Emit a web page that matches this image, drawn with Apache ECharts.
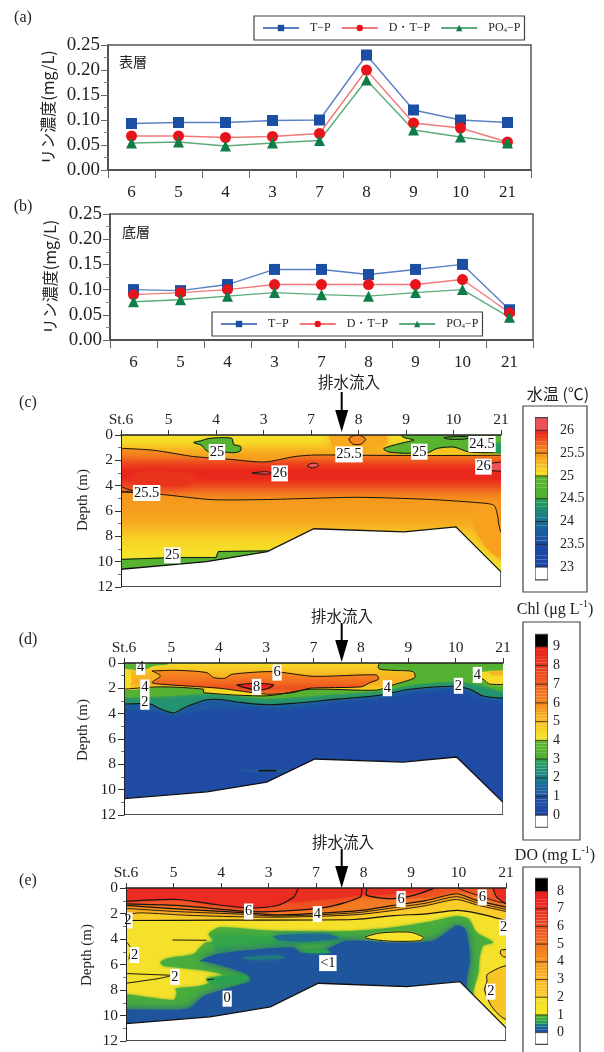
<!DOCTYPE html>
<html><head><meta charset="utf-8">
<style>html,body{margin:0;padding:0;background:#fff}#c{width:604px;height:1052px}</style>
<script src="https://cdn.jsdelivr.net/npm/echarts@6/dist/echarts.min.js"></script>
</head><body><div id="c"></div>
<script>
// ---------- line panels ----------
const stations = ['6','5','4','3','7','8','9','10','21'];
const surfaceTP  = [0.093,0.095,0.095,0.099,0.100,0.230,0.120,0.100,0.095];
const surfaceDTP = [0.068,0.068,0.065,0.067,0.073,0.200,0.094,0.084,0.056];
const surfacePO4 = [0.054,0.056,0.048,0.054,0.059,0.180,0.080,0.066,0.054];
const bottomTP  = [0.100,0.098,0.110,0.140,0.140,0.130,0.140,0.150,0.060];
const bottomDTP = [0.090,0.094,0.100,0.110,0.110,0.110,0.110,0.120,0.054];
const bottomPO4 = [0.076,0.080,0.087,0.094,0.090,0.087,0.094,0.100,0.045];
const sectionLabels = ['St.6','5','4','3','7','8','9','10','21'];

// ---------- colour scales (value, colour) ----------
const tempStops = [[23,'#1d44a4'],[23.5,'#1d4aa8'],[24,'#1a6f95'],[24.5,'#25a552'],[24.51,'#4fae33'],[25,'#5fb62f'],[25.001,'#f5e72a'],[25.25,'#f8bb22'],[25.5,'#f6951d'],[25.75,'#ef5a1f'],[26,'#e8201c'],[26.001,'#ee5258']];
const chlStops  = [[0,'#1f45a5'],[1,'#1f4fa5'],[2,'#1a7f8d'],[3,'#2ba554'],[3.01,'#4fae33'],[4,'#5fb62f'],[4.001,'#f5e72a'],[5,'#f8c022'],[6,'#f5861f'],[7,'#f0621f'],[8,'#ea3a20'],[9,'#e8201c'],[9.001,'#000000']];
const doStops   = [[0,'#1f45a5'],[0.4,'#1e6f90'],[0.6,'#2aa24f'],[1,'#5ab431'],[1.001,'#f5e92b'],[2,'#f5de2b'],[2.001,'#f8cf2a'],[3,'#f7b825'],[4,'#f6961f'],[5,'#f27424'],[6,'#ee4f24'],[7,'#ea2c22'],[8,'#e8201c'],[8.001,'#000000']];

// ---------- (c) water temperature ----------
const tempFloor = [[0,10.6],[1.8,10],[3.08,9.2],[4.06,7.4],[5.96,7.65],[7.05,7.25],[8,10.8]];
const tempUp255 = [[0,1.05],[0.68,1.2],[1.53,1.7],[2.24,1.9],[3.02,2.13],[3.66,1.7],[4.08,1.58],[5.05,1.6],[6.46,1.62],[8,1.6]];
const tempLow255 = [[0,4.5],[0.82,4.68],[1.9,5.1],[3,5.1],[4,5],[5,4.92],[6.45,5.08],[7.5,5.34],[7.85,5.55],[7.93,6.4],[7.95,7],[8,7.7]];
const tempBaseProfile = [[0,25.02],[0.6,25.08],[1.2,25.3],[1.7,25.44],[5,25.48],[6,25.44],[7,25.34],[8,25.15],[9,25.05],[10,25.01]];
const tempBandProfile = [[1,25.52],[1.6,25.6],[2.2,25.82],[2.8,25.97],[3.4,25.97],[4,25.82],[4.6,25.62],[5.2,25.5],[6,25.5]];
const tempHotLeft = [[0.3,3],[1,2.9],[1.6,3.2],[1.4,3.9],[0.7,4.05],[0.3,3.7]];
const tempWarmRight = [[7.4,5.6],[9,5.6],[9,10.5],[7.9,9.6],[7.5,7.8]];
const tempWarmTop = [[4.4,-0.5],[5.5,-0.5],[5.6,0.7],[5.1,1.3],[4.5,1.2]];
const tempYellowTop = [[6,0.9],[7,0.7],[8.5,0.9],[8.5,1.5],[6,1.5]];
const tempGreenA = [[1.53,0.6],[1.67,0.47],[1.88,0.26],[2.33,0.26],[2.37,0.74],[2.52,0.92],[2.51,1.26],[2.37,1.4],[2.16,1.34],[1.88,1.4],[1.77,1.13],[1.7,0.82]];
const tempGreenB = [[5.75,-1],[5.89,0],[5.96,0.2],[6.17,0.4],[5.89,0.66],[5.53,1.08],[5.64,1.34],[6.1,1.45],[6.45,1.4],[6.66,1.05],[7.01,0.95],[7.33,1.34],[8,1.4],[9,1.4],[9,-1]];
const tempGreenC = [[-1,9.95],[1.1,9.68],[2,9.68],[2.05,9.2],[3.08,9.15],[3.5,9.2],[3.5,13],[-1,13]];
const temp245Ring = [[6.8,0.2],[7.2,0.12],[7.4,0.2],[7.2,0.33],[6.9,0.33]];
const temp245Right = [[7.85,0.65],[9,0.65],[9,1.4],[7.85,1.4]];
const temp255Blob = [[4.8,0.3],[4.9,0.05],[5.05,0.05],[5.15,0.35],[5.05,0.72],[4.88,0.72]];
const temp26A = [[2.76,3],[3.05,2.9],[3.18,3],[3.05,3.1]];
const temp26B = [[3.92,2.45],[4,2.25],[4.12,2.25],[4.16,2.42],[4.03,2.6]];
const temp26C = [[7.6,2.6],[7.85,2.2],[9,1.95],[9,2.85],[7.8,2.82]];
const tempLoop = [[0,4.05],[0.12,4.25],[0.25,4.4],[0,4.5]];
const tempTextItems = [[2.02,1.34,'25'],[4.8,1.53,'25.5'],[6.28,1.32,'25'],[7.6,0.71,'24.5'],[3.34,3.03,'26'],[7.63,2.5,'26'],[0.54,4.58,'25.5'],[1.08,9.5,'25']];

// ---------- (d) chlorophyll ----------
const chlFloor = [[0,10.7],[1.75,10.17],[3.01,9.41],[4.03,7.58],[5.89,7.82],[7.02,7.42],[8,11]];
const chlLine2 = [[0,3.24],[0.55,3.24],[0.77,3.63],[1.05,3.95],[1.22,3.63],[1.4,3.32],[1.75,2.9],[2.1,2.9],[2.45,3.11],[3.01,3.29],[3.57,3.19],[4.49,2.85],[5.4,2.54],[6.03,2.07],[6.95,1.83],[7.3,2.07],[7.58,2.6],[8,2.77]];
const chlHaze  = [[0,3.6],[0.8,3.9],[1.05,4.15],[1.5,3.8],[2.5,3.5],[3.5,3.6],[4.5,3.1],[5.4,2.8],[6.03,2.35],[6.95,2.1],[7.5,2.7],[8,3.1]];
const chlGreen = [[0,2.7],[1,2.6],[2,2.4],[3,2.8],[4.5,2.45],[5.5,2.15],[6,1.75],[7,1.45],[7.5,1.7],[8,2.2]];
const chlLine4 = [[0,0.63],[0.17,0.5],[0.34,0.68],[0.63,0.24],[0.91,0.1],[0.95,-0.5],[5.4,-0.5],[5.37,0.42],[5.68,0.58],[6.1,0.68],[6.14,1.15],[5.68,1.73],[5.33,2.14],[3.93,2.07],[3.01,2.59],[1.68,2.34],[1.68,2.07],[0.77,1.88],[0,2.07]];
const chlYellowProfile = [[0,4.3],[0.5,4.8],[1,5.2],[1.6,5.3],[2.1,4.6],[2.6,4.1]];
const chlYellowLeft = [[-1,0.63],[0.1,0.55],[0.1,2.05],[-1,2.07]];
const chlLine6 = [[0.59,0.63],[1.12,0.58],[1.75,0.76],[1.89,1.15],[2.13,1.2],[2.28,0.89],[3.15,0.68],[4,1.05],[5.33,0.94],[5.37,1.28],[5.19,1.55],[5.01,1.88],[3.93,1.99],[3.57,2.33],[3.01,2.46],[2.03,2],[0.77,1.67],[0.59,1.54],[0.77,1.02]];
const chlOrangeProfile = [[0.6,5.9],[1.1,6.3],[1.6,6.9],[2,7.5],[2.5,6.3]];
const chlLine8 = [[2.38,1.73],[2.73,1.62],[3.15,1.73],[3.05,1.99],[2.8,2.14],[2.49,1.88]];
const chlBlobRight = [[7.37,0.76],[9,0.63],[9,1.67],[7.72,1.67],[7.58,1.28],[7.45,1.1]];
const chlBlobRightCore = [[7.7,0.7],[9,0.65],[9,0.95],[7.8,0.95]];
const chlDeepPatch = [[2.4,8.5],[3.2,8.42],[3.5,8.5],[3.2,8.58]];
const chlDeepLine = [[2.84,8.5],[3.22,8.5]];
const chlTextItems = [[0.35,0.31,'4'],[0.44,1.93,'4'],[0.44,3.06,'2'],[3.23,0.76,'6'],[2.8,1.88,'8'],[5.56,1.99,'4'],[7.06,1.8,'2'],[7.46,0.94,'4']];

// ---------- (e) dissolved oxygen ----------
const doFloor = [[0,10.63],[1.77,10.1],[3.04,9.32],[4.05,7.47],[5.91,7.74],[7.03,7.34],[8,10.97]];
const doLineA = [[0,1.05],[1.07,0.9],[1.77,1.24],[2.55,1.55],[3.18,1.37],[3.53,0.71],[3.62,0.05]];
const doLineB = [[0,1.24],[1.07,1.37],[2.55,1.84],[3.18,1.84],[4.23,1.5],[4.93,0.71],[4.96,0.05]];
const doLineC = [[5.07,0.05],[5.07,0.58],[5.63,0.84],[6.05,0.58],[6.47,0.05]];
const doLineD = [[0,1.37],[1.07,1.63],[2.55,1.95],[3.18,2.1],[4.23,1.95],[4.93,1.76],[5.63,1.37],[6.33,0.97],[6.96,0.45],[7.38,0.97],[8,1.5]];
const doLineE = [[0,2.1],[0.3,1.95],[1.42,2.16],[3.18,2.29],[4.82,2.1],[5.63,1.76],[6.33,1.37],[6.96,0.9],[7.38,1.32],[8,1.84]];
const doLineF = [[0,2.55],[2,2.52],[4.82,2.47],[5.63,2.16],[6.33,2.03],[6.96,1.76],[7.38,1.97],[8,2.55]];
const doLineG = [[7,0.05],[7.35,0.5],[7.8,1.05],[8,1.2]];
const doLineH = [[7.73,0.05],[7.8,0.7],[8,1.24]];
const doLineI = [[0,1.6],[1.07,1.85],[2.55,2.07],[3.18,2.2],[4.82,1.95],[5.63,1.55],[6.33,1.18],[6.96,0.68],[7.38,1.15],[8,1.68]];
const doRedLeft = [[-1,-1],[3.75,-1],[3.62,0.05],[3.53,0.71],[3.18,1.37],[2.55,1.55],[1.77,1.24],[1.07,0.9],[-1,1.05]];
const doRedMid = [[3.6,-1],[6.5,-1],[6.47,0.05],[5.7,0.45],[4.9,0.6],[4.3,0.85],[3.4,1]];
const doRedRight = [[7.75,-1],[9,-1],[9,1],[8,1],[7.8,0.6]];
const doGreen = [[0,8.34],[1,8.79],[1.07,8.21],[1.04,7.89],[1.56,7.68],[1.77,7.42],[1.7,7.16],[2.05,6.82],[1.56,6.42],[0.79,6.11],[0.72,5.84],[0.86,5.53],[1.42,5.18],[1.56,4.66],[1.7,4.26],[2.12,4.13],[1.84,4],[1.74,3.6],[1.98,3.08],[2.97,3.34],[4.09,3.42],[4.93,3.34],[5.63,3.08],[6.33,2.68],[6.96,2.21],[7.21,2.42],[7.38,3.47],[7.73,4.26],[7.52,4.53],[7.44,5.58],[7.42,6.63],[7.31,8.21],[7.3,13],[-1,13],[-1,8.34]];
const doBlue = [[-1,9.84],[1.29,9.47],[1.64,8.47],[2.42,7.55],[2.63,7.29],[2.5,6.7],[1.77,5.84],[1.56,5.71],[1.92,5.18],[2.83,4.79],[3.53,4.66],[3.67,5.05],[4.09,5.05],[4.37,4.53],[4.65,4.13],[5.63,4.26],[6.47,4.13],[6.75,3.47],[6.96,2.95],[7.14,3.21],[7.21,4.26],[7.24,5.58],[7.17,7.42],[7.1,13],[-1,13]];
const doTeal = [[1.85,3.75],[3.2,3.85],[4.2,3.65],[4.7,3.95],[4.4,4.3],[3.5,4.45],[2.5,4.5],[1.9,5]];
const doBlueTop = [[3.1,3.75],[4.2,3.6],[4.5,3.95],[3.8,4.2],[3.2,4.05]];
const doTongue = [[3.7,4.95],[4.2,4.85],[4.3,5.05],[3.9,5.1]];
const doPatch = [[2.45,5.45],[3.2,5.3],[3.35,5.5],[2.6,5.6]];
const doTongue2 = [[1.7,7.1],[2.5,6.85],[2.6,7.1],[2.3,7.45],[1.8,7.55]];
const doIsland = [[5.03,3.87],[5.35,3.53],[5.98,3.47],[6.26,3.87],[6.19,4.13],[5.63,4.18],[5.21,4.05]];
const doRightPatch = [[9,6.1],[8,6.1],[7.6,6.8],[7.6,7.3],[7.55,8],[7.7,9.3],[8,10.3],[9,10.3]];
const doRing = [[9,4.8],[7.9,4.85],[7.88,5.1],[7.95,5.4],[9,5.45]];
const doContourLeft = [[[0.98,4.08],[1.7,4.1]],[[0,6.71],[0.93,6.84]],[[0,7.47],[0.69,7.1],[0.93,6.9]],[[0,4.2],[0.1,4.7],[0.06,5.6]],[[1.7,7.2],[1.85,7.15]]];
const doTextItems = [[2.58,1.84,'6'],[4.03,2.05,'4'],[5.79,0.87,'6'],[7.5,0.74,'6'],[0.04,2.55,'2'],[7.95,3.1,'2'],[0.18,5.26,'2'],[1.03,6.97,'2'],[4.25,5.89,'<1'],[7.68,8.13,'2'],[2.13,8.68,'0']];

// ---------- helpers ----------
const SERIF = '"Liberation Serif","DejaVu Serif",serif';
const CJK = '"Noto Sans CJK JP","Noto Sans CJK SC",sans-serif';
const WHOLE = [[-1,-1],[9,-1],[9,13],[-1,13]];
function hex(c){return [1,3,5].map(i=>parseInt(c.substr(i,2),16));}
function colourOf(stops,v){
  if(v<=stops[0][0])return stops[0][1];
  for(let i=1;i<stops.length;i++){
    if(v<=stops[i][0]){
      const a=stops[i-1],b=stops[i],t=(v-a[0])/(b[0]-a[0]);
      const A=hex(a[1]),B=hex(b[1]);
      return 'rgb('+A.map((x,k)=>Math.round(x+(B[k]-x)*t)).join(',')+')';
    }
  }
  return stops[stops.length-1][1];
}
function toSurface(line){
  return [...line,[9,line[line.length-1][1]],[9,-1],[-1,-1],[-1,line[0][1]]];
}
function fill(stops,v,pts,blur,opts){
  const c=colourOf(stops,v);
  return Object.assign({pts,closed:true,smooth:0.25,fill:c,blur:blur==null?5:blur,shadow:c},opts||{});
}
function gradFill(stops,profile,pts,opts){
  return Object.assign({pts,closed:true,smooth:0.25,stops,profile},opts||{});
}
function contour(pts,w){return {pts,closed:false,smooth:0.25,stroke:'#17140c',width:w||1};}
function floorShape(pts){
  return {pts:[...pts,[8,12],[0,12]],closed:true,fill:'#ffffff',stroke:'#111',width:1.3};
}
function customSeries(shapes,xi,yi,z){
  return {type:'custom',coordinateSystem:'cartesian2d',xAxisIndex:xi,yAxisIndex:yi,clip:true,silent:true,z:z||2,animation:false,
    data:shapes.map((_,i)=>[i,0]),
    renderItem(params,api){
      const s=shapes[params.dataIndex];
      const points=s.pts.map(p=>api.coord(p));
      let f=s.closed?s.fill:null;
      if(s.profile){
        const d0=s.profile[0][0],d1=s.profile[s.profile.length-1][0];
        const y0=api.coord([0,d0])[1],y1=api.coord([0,d1])[1];
        f=new echarts.graphic.LinearGradient(0,y0,0,y1,
          s.profile.map(q=>({offset:(q[0]-d0)/(d1-d0),color:colourOf(s.stops,q[1])})),true);
      }
      return {type:s.closed?'polygon':'polyline',
        shape:{points,smooth:s.smooth||0},
        style:{fill:f,stroke:s.stroke||null,lineWidth:s.width||0,
          shadowBlur:s.blur||0,shadowColor:s.shadow||'transparent'}};
    }};
}
function textSeries(items,xi,yi){
  return {type:'scatter',xAxisIndex:xi,yAxisIndex:yi,z:6,silent:true,symbolSize:1,itemStyle:{color:'transparent',opacity:1},animation:false,
    data:items.map(t=>({name:t[2],value:[t[0],t[1]]})),
    label:{show:true,position:'inside',formatter:'{b}',color:'#111',fontFamily:SERIF,fontSize:14.5,backgroundColor:'#fff',padding:[1,1,0,1],opacity:1}};
}

// ---------- shapes per section ----------
const tempShapes=[
  gradFill(tempStops,tempBaseProfile,WHOLE,{smooth:0}),
  fill(tempStops,25.42,tempWarmRight,12),
  fill(tempStops,25.36,tempWarmTop,12),
  fill(tempStops,25.2,tempYellowTop,8),
  gradFill(tempStops,tempBandProfile,[...tempUp255,[9,1.6],[9,7.8],...tempLow255.slice().reverse(),[-1,4.5],[-1,1.05]]),
  fill(tempStops,25.92,tempHotLeft,12),
  fill(tempStops,24.8,tempGreenA,1,{stroke:'#17140c',width:1}),
  fill(tempStops,24.8,tempGreenB,1,{stroke:'#17140c',width:1}),
  fill(tempStops,24.8,tempGreenC,1,{stroke:'#17140c',width:1,smooth:0}),
  fill(tempStops,24.45,temp245Right,2,{smooth:0}),
  fill(tempStops,24.6,temp245Ring,0,{stroke:'#17140c',width:1}),
  fill(tempStops,25.55,temp255Blob,1,{stroke:'#17140c',width:1}),
  contour(tempUp255),contour(tempLow255),contour(tempLoop),
  fill(tempStops,26.5,temp26A,0,{stroke:'#17140c',width:1}),
  fill(tempStops,26.5,temp26B,0,{stroke:'#17140c',width:1}),
  fill(tempStops,26.5,temp26C,0,{stroke:'#17140c',width:1}),
  floorShape(tempFloor)
];
const chlShapes=[
  fill(chlStops,0.6,WHOLE,0),
  fill(chlStops,1.2,toSurface(chlHaze),9),
  fill(chlStops,2.5,toSurface(chlLine2),2),
  fill(chlStops,3.4,toSurface(chlGreen),4),
  fill(chlStops,1.4,chlDeepPatch,3),
  gradFill(chlStops,chlYellowProfile,chlLine4),
  fill(chlStops,4.3,chlYellowLeft,1),
  fill(chlStops,4.3,chlBlobRight,2),
  fill(chlStops,5.2,chlBlobRightCore,2),
  gradFill(chlStops,chlOrangeProfile,chlLine6),
  fill(chlStops,8.8,chlLine8,2),
  contour(chlLine2,1.1),
  contour(chlLine4.slice(4)),
  contour([...chlLine6,chlLine6[0]]),
  contour([...chlLine8,chlLine8[0]],1.2),
  contour([...chlBlobRight.slice(2,6),chlBlobRight[0]]),
  contour(chlDeepLine,1.6),
  floorShape(chlFloor)
];
const doShapes=[
  fill(doStops,1.7,WHOLE,0),
  fill(doStops,2.15,toSurface(doLineF),1),
  fill(doStops,3.3,toSurface(doLineE),2),
  fill(doStops,4,toSurface(doLineI),2),
  fill(doStops,4.8,toSurface(doLineD),2),
  fill(doStops,5.8,toSurface(doLineB.concat([[5,0.3],[5.07,0.58],[5.63,0.84],[6.47,0.7],[7,0.3],[7.8,1.05],[8,1.2]])),3),
  fill(doStops,7,doRedLeft,3),
  fill(doStops,6.9,doRedMid,6),
  fill(doStops,7,doRedRight,2),
  fill(doStops,2.5,doRightPatch,1,{stroke:'#17140c',width:1}),
  fill(doStops,2.5,doRing,0,{stroke:'#17140c',width:1}),
  fill(doStops,0.85,doGreen,3),
  fill(doStops,0.68,doTeal,5),
  fill(doStops,0.15,doBlue,9),
  fill(doStops,0.35,doBlueTop,5),
  fill(doStops,0.6,doTongue,3),
  fill(doStops,0.45,doPatch,4),
  fill(doStops,0.6,doTongue2,4),
  fill(doStops,1.5,doIsland,1,{stroke:'#17140c',width:1}),
  contour(doLineA,1.2),contour(doLineB,1.2),contour(doLineC,1.2),contour(doLineD,1.2),contour(doLineE,0.9),contour(doLineF,1.2),contour(doLineG,0.9),contour(doLineH,1.2),contour(doLineI,0.9),
  ...doContourLeft.map(l=>contour(l,1)),
  floorShape(doFloor)
];

// ---------- legends ----------
function legendShapes(stops,lo,hi,step,levels,topColour,lowColour,minLevel,maxLevel){
  const out=[];
  const sub=step/6;
  for(let v=minLevel;v<maxLevel-1e-6;v+=sub){
    out.push({pts:[[0,v],[1,v],[1,v+sub],[0,v+sub]],closed:true,fill:colourOf(stops,v+sub/2)});
  }
  out.push({pts:[[0,lo],[1,lo],[1,minLevel],[0,minLevel]],closed:true,fill:lowColour});
  out.push({pts:[[0,maxLevel],[1,maxLevel],[1,hi],[0,hi]],closed:true,fill:topColour});
  levels.forEach(v=>out.push({pts:[[0,v],[1,v]],closed:false,stroke:'rgba(20,15,5,0.75)',width:1}));
  out.push({pts:[[0,lo],[1,lo],[1,hi],[0,hi]],closed:true,fill:'transparent',stroke:'#444',width:1.2});
  return out;
}
const tempLevels=[23,23.5,24,24.5,25,25.5,26];
const chlLevels=[0,1,2,3,4,5,6,7,8,9];
const doLevels=[0,1,2,3,4,5,6,7,8];

// ---------- option ----------
const grids=[
 {left:108,top:45,width:423,height:125,show:true,borderColor:'#555',borderWidth:1.5},
 {left:110,top:214,width:423,height:126,show:true,borderColor:'#555',borderWidth:1.5},
 {left:121,top:435,width:380,height:152},
 {left:124,top:663,width:379,height:152},
 {left:126,top:888,width:380,height:153},
 {left:535,top:407.5,width:13,height:182.4},
 {left:535,top:628,width:13,height:206},
 {left:535,top:873.3,width:13,height:177},
];
function catAxis(g){return {type:'category',gridIndex:g,data:stations,boundaryGap:true,
  axisLine:{lineStyle:{color:'#444',width:1.5}},axisTick:{show:true,length:8,alignWithLabel:false,lineStyle:{color:'#666'}},
  axisLabel:{color:'#222',fontFamily:SERIF,fontSize:17,margin:14}};}
function concAxis(g){return {type:'value',gridIndex:g,min:0,max:0.25,interval:0.05,
  name:'リン濃度(mg/L)',nameLocation:'middle',nameGap:51,nameTextStyle:{fontFamily:CJK,fontSize:16,color:'#222'},
  splitLine:{show:false},axisLine:{show:true,lineStyle:{color:'#444',width:1.5}},
  axisTick:{show:true,length:7,lineStyle:{color:'#666'}},minorTick:{show:true,splitNumber:2,length:4,lineStyle:{color:'#888'}},
  axisLabel:{color:'#222',fontFamily:SERIF,fontSize:19,margin:8,formatter:v=>v.toFixed(2)}};}
function sectionX(g){return {type:'value',gridIndex:g,position:'top',min:0,max:8,interval:1,z:10,
  axisLine:{onZero:false,lineStyle:{color:'#222',width:1.6}},axisTick:{length:5,lineStyle:{color:'#333'}},splitLine:{show:false},
  axisLabel:{color:'#222',fontFamily:SERIF,fontSize:15.5,margin:7,formatter:v=>sectionLabels[v]}};}
function sectionY(g){return {type:'value',gridIndex:g,inverse:true,min:0,max:12,interval:2,z:10,
  axisLine:{onZero:false,lineStyle:{color:'#222',width:1}},axisTick:{length:6,lineStyle:{color:'#333'}},
  minorTick:{show:true,splitNumber:2,length:3,lineStyle:{color:'#777'}},splitLine:{show:false},
  axisLabel:{color:'#222',fontFamily:SERIF,fontSize:15.5,margin:8}};}
function swatchX(g){return {type:'value',gridIndex:g,min:0,max:1,show:false};}
function swatchY(g,min,max,interval,margin,hide){return {type:'value',gridIndex:g,position:'right',min,max,interval,
  splitLine:{show:false},axisLine:{show:false},axisTick:{show:false},
  axisLabel:{color:'#222',fontFamily:SERIF,fontSize:14,margin,formatter:v=>hide.includes(v)?'':String(v)}};}

function lineSeries(name,data,g,lineC,markC,symbol,size){
  return {type:'line',name,data,xAxisIndex:g,yAxisIndex:g,symbol,symbolSize:size,
    lineStyle:{color:lineC,width:1.4},itemStyle:{color:markC},emphasis:{disabled:true},animation:false,z:3};
}
const LEG=[{name:'T-P'},{name:'D・T-P'},{name:'PO4-P'}];
function legendOpt(left,top){
  return {left,top,width:270,itemGap:10,itemWidth:36,itemHeight:8,orient:'horizontal',padding:[6,4,6,8],
    backgroundColor:'#fff',borderColor:'#444',borderWidth:1.2,data:LEG,selectedMode:false,z:20,
    textStyle:{fontFamily:SERIF,fontSize:12,color:'#222',rich:{s:{fontSize:7,fontFamily:SERIF,color:'#222',verticalAlign:'bottom'},n:{fontFamily:SERIF,fontSize:12,color:'#222'},g:{width:6,fontSize:12}}},
    formatter:n=>{
      if(n==='PO4-P')return '{g|}{n|PO}{s|4}{n|−P}';
      return '{g|}{n|'+n.replace('-','−')+'}';
    }};
}
function arrow(x,y0,y1){
  return [
   {type:'line',shape:{x1:x,y1:y0,x2:x,y2:y1-18},style:{stroke:'#000',lineWidth:2},z:30},
   {type:'polygon',shape:{points:[[x-6.5,y1-22],[x+6.5,y1-22],[x,y1]]},style:{fill:'#000'},z:30}
  ];
}
function lbl(x,y,text,size,font,extra){
  return Object.assign({type:'text',x,y,style:{text,fontSize:size,fontFamily:font,fill:'#222',align:'center',verticalAlign:'middle'},z:30},extra||{});
}
function richTitle(x,y,main,sup,tail){
  return {type:'text',x,y,z:30,style:{text:'{m|'+main+'}{s|'+sup+'}{m|'+tail+'}',align:'center',verticalAlign:'middle',
    rich:{m:{fontFamily:SERIF,fontSize:16,fill:'#222'},s:{fontFamily:SERIF,fontSize:10,fill:'#222',padding:[0,0,11,0]}}}};
}
const graphicEls=[
  lbl(23,18,'(a)',16,SERIF), lbl(23,207,'(b)',16,SERIF), lbl(28,403,'(c)',16,SERIF), lbl(28,640,'(d)',16,SERIF), lbl(28,881,'(e)',16,SERIF),
  lbl(133,62,'表層',14,CJK), lbl(136,232,'底層',14,CJK),
  lbl(349,382,'排水流入',15.5,CJK), lbl(342,616,'排水流入',15.5,CJK), lbl(343,842,'排水流入',15.5,CJK),
  ...arrow(341.7,392,432), ...arrow(341.7,623,662), ...arrow(341.7,849,888),
  lbl(83,500,'Depth (m)',15,SERIF,{rotation:Math.PI/2}), lbl(83,730,'Depth (m)',15,SERIF,{rotation:Math.PI/2}), lbl(87,955,'Depth (m)',15,SERIF,{rotation:Math.PI/2}),
  {type:'rect',shape:{x:523,y:406,width:64,height:186},style:{fill:'none',stroke:'#444',lineWidth:1.2},z:1},
  {type:'rect',shape:{x:523,y:622,width:57,height:218},style:{fill:'none',stroke:'#444',lineWidth:1.2},z:1},
  {type:'rect',shape:{x:523,y:867,width:57,height:200},style:{fill:'none',stroke:'#444',lineWidth:1.2},z:1},
  lbl(558,394,'水温 (℃)',16,CJK),
  richTitle(555,610,'Chl (μg L','-1',')'),
  richTitle(555,856,'DO (mg L','-1',')')
];
const option={
  animation:false,
  grid:grids,
  legend:[legendOpt(254,16),legendOpt(212,312)],
  xAxis:[catAxis(0),catAxis(1),sectionX(2),sectionX(3),sectionX(4),swatchX(5),swatchX(6),swatchX(7)],
  yAxis:[concAxis(0),concAxis(1),sectionY(2),sectionY(3),sectionY(4),
    swatchY(5,22.5,26.5,0.5,12,[22.5,26.5]),swatchY(6,-1,10,1,5,[-1,10]),swatchY(7,-1,9,1,9,[-1,9])],
  graphic:{elements:graphicEls},
  series:[
    lineSeries('T-P',surfaceTP,0,'#5a80c4','#1b4fa3','rect',11),
    lineSeries('D・T-P',surfaceDTP,0,'#f07a7a','#e8141c','circle',11),
    lineSeries('PO4-P',surfacePO4,0,'#5cab7a','#0f7d47','triangle',11),
    lineSeries('T-P',bottomTP,1,'#5a80c4','#1b4fa3','rect',11),
    lineSeries('D・T-P',bottomDTP,1,'#f07a7a','#e8141c','circle',11),
    lineSeries('PO4-P',bottomPO4,1,'#5cab7a','#0f7d47','triangle',11),
    customSeries(tempShapes,2,2), textSeries(tempTextItems,2,2),
    customSeries(chlShapes,3,3), textSeries(chlTextItems,3,3),
    customSeries(doShapes,4,4), textSeries(doTextItems,4,4),
    customSeries(legendShapes(tempStops,22.72,26.28,0.5,tempLevels,'#ee5258','#ffffff',23,26),5,5),
    customSeries(legendShapes(chlStops,-0.64,9.66,1,chlLevels,'#000000','#ffffff',0,9),6,6),
    customSeries(legendShapes(doStops,-0.66,8.72,1,doLevels,'#000000','#ffffff',0,8),7,7),
  ]
};
echarts.init(document.getElementById('c'),null,{renderer:'canvas'}).setOption(option);
</script></body></html>
